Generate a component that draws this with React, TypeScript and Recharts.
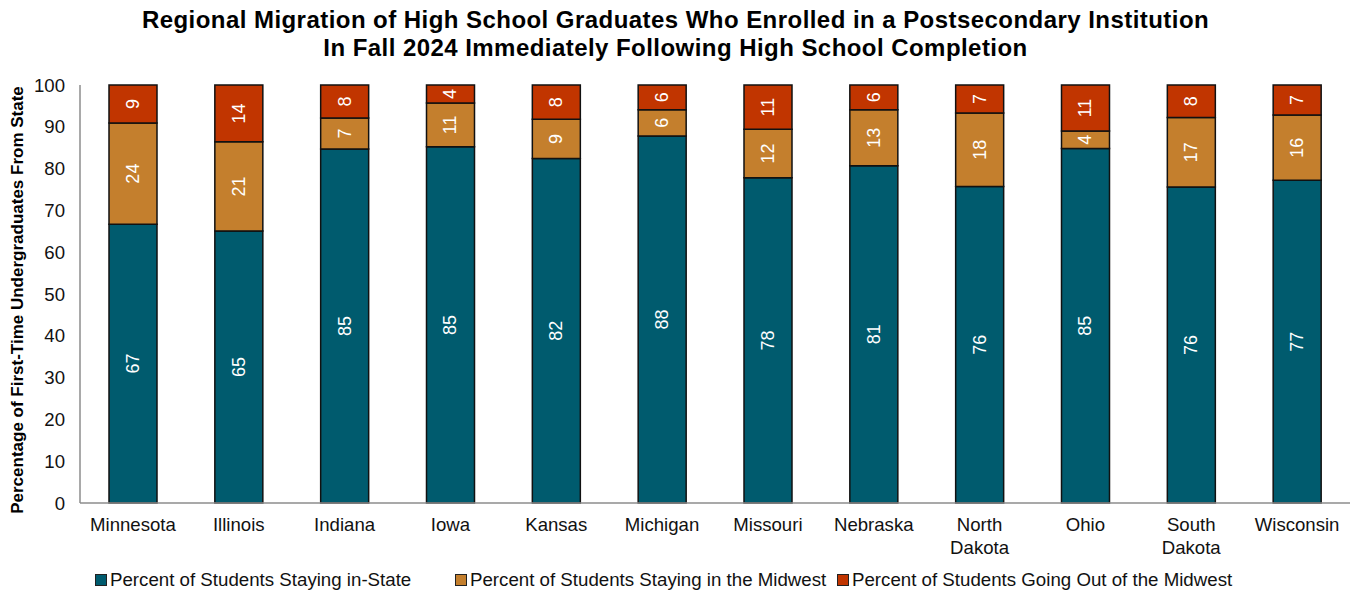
import React from 'react'
import { BarChart, Bar, XAxis, YAxis, LabelList, Customized } from 'recharts'

const states = [
  'Minnesota', 'Illinois', 'Indiana', 'Iowa', 'Kansas', 'Michigan',
  'Missouri', 'Nebraska', 'North Dakota', 'Ohio', 'South Dakota', 'Wisconsin',
]
const inState = [66.7, 65.1, 84.7, 85.2, 82.4, 87.8, 77.8, 80.7, 75.7, 84.8, 75.6, 77.2]
const midwest = [24.2, 21.3, 7.4, 10.5, 9.4, 6.3, 11.6, 13.4, 17.6, 4.2, 16.6, 15.6]
const outMidwest = [9.1, 13.6, 7.9, 4.3, 8.2, 5.9, 10.6, 5.9, 6.7, 11.0, 7.8, 7.2]
const yTicks = [0, 10, 20, 30, 40, 50, 60, 70, 80, 90, 100]

const SERIES = [
  { key: 'inState', name: 'Percent of Students Staying in-State', color: '#005b6e' },
  { key: 'midwest', name: 'Percent of Students Staying in the Midwest', color: '#c47f2d' },
  { key: 'out', name: 'Percent of Students Going Out of the Midwest', color: '#c13500' },
]

const data = states.map((s, i) => ({
  state: s,
  inState: inState[i],
  midwest: midwest[i],
  out: outMidwest[i],
}))

const FONT = '"Liberation Sans", Arial, sans-serif'

const StateTick = (props: any) => {
  const { x, y, payload } = props
  const lines = String(payload.value).split(' ')
  return (
    <text x={x} y={y} textAnchor="middle" fontFamily={FONT} fontSize={18.6} fill="#111">
      {lines.map((l, i) => (
        <tspan key={i} x={x} dy={i === 0 ? 20 : 23}>{l}</tspan>
      ))}
    </text>
  )
}

const SegLabel = (props: any) => {
  const { x, y, width, height, value } = props
  const cx = x + width / 2
  const cy = y + height / 2
  return (
    <text
      x={cx}
      y={cy}
      transform={`rotate(-90 ${cx} ${cy})`}
      textAnchor="middle"
      dominantBaseline="central"
      fontFamily={FONT}
      fontSize={18}
      fill="#fff"
    >
      {Math.round(value)}
    </text>
  )
}

const YTitle = () => (
  <text
    x={17}
    y={300}
    transform="rotate(-90 17 300)"
    textAnchor="middle"
    dominantBaseline="central"
    fontFamily={FONT}
    fontSize={17}
    fontWeight="bold"
    fill="#000"
  >
    Percentage of First-Time Undergraduates From State
  </text>
)

export default function App() {
  return (
    <div style={{ position: 'absolute', left: 0, top: 0, width: 1351, height: 595, background: '#fff' }}>
      <div
        style={{
          position: 'absolute', left: 0, top: 6, width: 1351, textAlign: 'center',
          fontFamily: FONT, fontWeight: 'bold', fontSize: 24, letterSpacing: 0.45,
          lineHeight: '28px', color: '#000', zIndex: 2,
        }}
      >
        Regional Migration of High School Graduates Who Enrolled in a Postsecondary Institution
        <br />
        In Fall 2024 Immediately Following High School Completion
      </div>
      <BarChart
        width={1351}
        height={595}
        data={data}
        margin={{ top: 85, right: 1, left: 0, bottom: 62 }}
        barSize={48}
      >
        <XAxis
          dataKey="state"
          height={30}
          tick={<StateTick />}
          tickLine={false}
          axisLine={{ stroke: '#8c8c8c', strokeWidth: 1.5 }}
          interval={0}
        />
        <YAxis
          width={80}
          domain={[0, 100]}
          ticks={yTicks}
          tickLine={false}
          tickSize={0}
          tickMargin={15}
          axisLine={{ stroke: '#8c8c8c', strokeWidth: 1.5 }}
          tick={{ fontFamily: FONT, fontSize: 18.6, fill: '#111' }}
        />
        {SERIES.map((s) => (
          <Bar
            key={s.key}
            dataKey={s.key}
            name={s.name}
            stackId="a"
            fill={s.color}
            stroke="#111"
            strokeWidth={1.5}
            isAnimationActive={false}
          >
            <LabelList dataKey={s.key} content={<SegLabel />} />
          </Bar>
        ))}
        <Customized component={<YTitle />} />
      </BarChart>
      <div style={{ position: 'absolute', left: 0, top: 569, width: 1351, height: 24, fontFamily: FONT, fontSize: 18.7, color: '#111' }}>
        {SERIES.map((s, i) => (
          <div
            key={s.key}
            style={{ position: 'absolute', left: [95, 455, 837][i], top: 0, display: 'flex', alignItems: 'center', whiteSpace: 'nowrap' }}
          >
            <span style={{ width: 10, height: 10, background: s.color, border: '1px solid #222', marginRight: 3, display: 'inline-block' }} />
            <span>{s.name}</span>
          </div>
        ))}
      </div>
    </div>
  )
}
